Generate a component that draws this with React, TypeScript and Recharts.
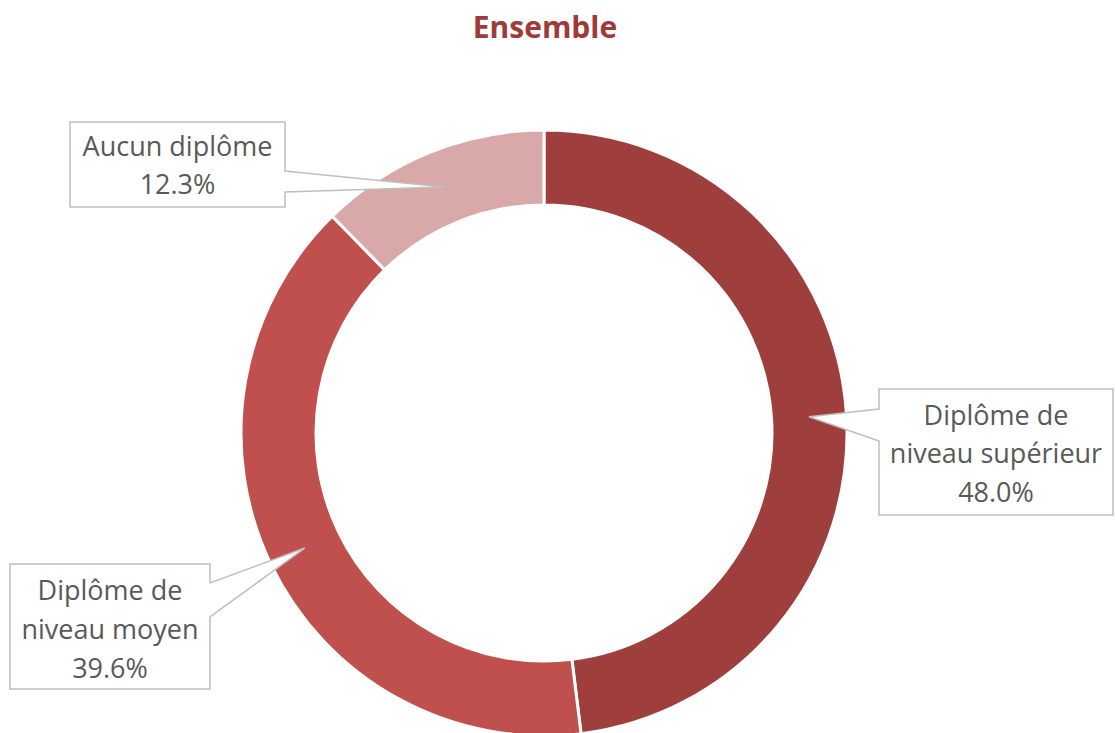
import { PieChart, Pie, Cell } from "recharts";

const CATEGORIES = ["Diplôme de niveau supérieur", "Diplôme de niveau moyen", "Aucun diplôme"];
const LABEL_LINES = [["Diplôme de", "niveau supérieur"], ["Diplôme de", "niveau moyen"], ["Aucun diplôme"]];
const VALUES = [48.0, 39.6, 12.3];
const COLORS = ["#9E3F3E", "#C0504D", "#D9A9A9"];

// callout box placement (screen px)
const BOXES = [
  { x: 879, y: 389, w: 234, h: 126, side: "left", b1: 409, b2: 441, lineY: [425, 463, 502] },
  { x: 10, y: 564, w: 200, h: 125, side: "right", b1: 583, b2: 617, lineY: [600, 639, 678] },
  { x: 70, y: 122, w: 215, h: 85, side: "right", b1: 171, b2: 192, lineY: [156, 194] },
];

const data = CATEGORIES.map((name, i) => ({ name, value: VALUES[i] }));

const RADIAN = Math.PI / 180;
const FONT = "'Open Sans', sans-serif";

function renderLabel(props: any) {
  const { cx, cy, midAngle, innerRadius, outerRadius, index, value } = props;
  const r = (innerRadius + outerRadius) / 2;
  const tx = cx + r * Math.cos(-midAngle * RADIAN);
  const ty = cy + r * Math.sin(-midAngle * RADIAN);
  const b = BOXES[index];
  const { x, y, w, h, b1, b2 } = b;
  let d: string;
  if (b.side === "right") {
    d = `M${x},${y} H${x + w} V${b1} L${tx},${ty} L${x + w},${b2} V${y + h} H${x} Z`;
  } else {
    d = `M${x},${y} H${x + w} V${y + h} H${x} V${b2} L${tx},${ty} L${x},${b1} Z`;
  }
  const lines = [...LABEL_LINES[index], `${value.toFixed(1)}%`];
  return (
    <g key={`lbl-${index}`}>
      <path d={d} fill="#FFFFFF" stroke="#BFBFBF" strokeWidth={1.5} />
      {lines.map((t, i) => (
        <text
          key={i}
          x={x + w / 2}
          y={b.lineY[i]}
          textAnchor="middle"
          fill="#595959"
          fontSize={27}
          fontFamily={FONT}
        >
          {t}
        </text>
      ))}
    </g>
  );
}

export default function App() {
  return (
    <div style={{ position: "absolute", left: 0, top: 0, width: 1115, height: 733, background: "#fff" }}>
      <PieChart width={1115} height={733} margin={{ top: 0, right: 0, bottom: 0, left: 0 }}>
        <text x={545} y={38} textAnchor="middle" fill="#9E3A38" fontSize={30} fontWeight={700} fontFamily={FONT}>
          Ensemble
        </text>
        <Pie
          data={data}
          dataKey="value"
          nameKey="name"
          cx={544}
          cy={433}
          innerRadius={228}
          outerRadius={303}
          startAngle={90}
          endAngle={-270}
          stroke="#FFFFFF"
          strokeWidth={3}
          label={renderLabel}
          labelLine={false}
          isAnimationActive={false}
        >
          {data.map((entry, i) => (
            <Cell key={entry.name} fill={COLORS[i]} />
          ))}
        </Pie>
      </PieChart>
    </div>
  );
}
